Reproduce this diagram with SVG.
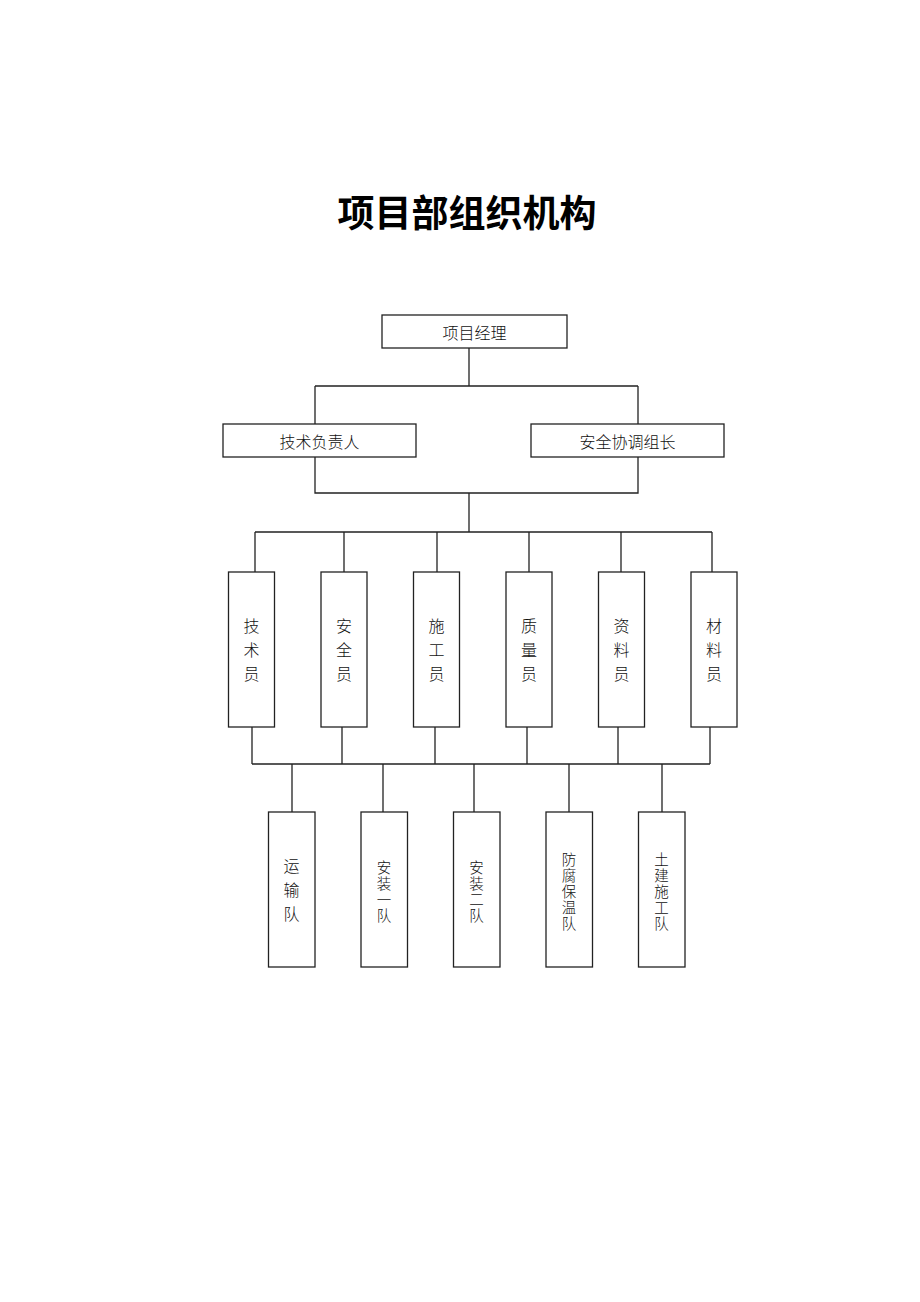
<svg xmlns="http://www.w3.org/2000/svg" width="920" height="1302" viewBox="0 0 920 1302">
<style>
.box{fill:#fff;stroke:#222;stroke-width:1.3}
.ln{fill:none;stroke:#222;stroke-width:1.3}
.t{font-family:"Noto Sans CJK SC","Noto Sans CJK JP",sans-serif;font-size:16px;fill:#111;text-anchor:middle;dominant-baseline:central;font-weight:300}
.s{font-size:14.5px}
.title{font-family:"Noto Sans CJK SC","Noto Sans CJK JP",sans-serif;font-size:37px;font-weight:bold;fill:#000;text-anchor:middle}
</style>
<rect width="920" height="1302" fill="#fff"/>
<text class="title" x="467" y="227">项目部组织机构</text>
<g id="connectors">
<path class="ln" d="M469,348V386M315,386H638M315,386V424M638,386V424"/>
<path class="ln" d="M315,457V493H638V457M469,493V532"/>
<path class="ln" d="M255,532H712M255,532V572M344,532V572M437,532V572M529,532V572M621,532V572M712,532V572"/>
<path class="ln" d="M252,727V764M342,727V764M435,727V764M527,727V764M618,727V764M710,727V764M252,764H710"/>
<path class="ln" d="M292,764V812M383,764V812M474,764V812M569,764V812M662,764V812"/>
</g>
<g id="n-manager"><rect class="box" x="382" y="315" width="185" height="33"/><text class="t" x="474.5" y="332">项目经理</text></g>
<g id="n-tech-lead"><rect class="box" x="223" y="424" width="193" height="33"/><text class="t" x="319.5" y="441">技术负责人</text></g>
<g id="n-safety-lead"><rect class="box" x="531" y="424" width="193" height="33"/><text class="t" x="627.5" y="441">安全协调组长</text></g>
<g id="n-jsy"><rect class="box" x="228.5" y="572" width="46" height="155"/><text class="t" x="251.5" y="625">技</text><text class="t" x="251.5" y="649">术</text><text class="t" x="251.5" y="673">员</text></g>
<g id="n-aqy"><rect class="box" x="321" y="572" width="46" height="155"/><text class="t" x="344" y="625">安</text><text class="t" x="344" y="649">全</text><text class="t" x="344" y="673">员</text></g>
<g id="n-sgy"><rect class="box" x="413.5" y="572" width="46" height="155"/><text class="t" x="436.5" y="625">施</text><text class="t" x="436.5" y="649">工</text><text class="t" x="436.5" y="673">员</text></g>
<g id="n-zly"><rect class="box" x="506" y="572" width="46" height="155"/><text class="t" x="529" y="625">质</text><text class="t" x="529" y="649">量</text><text class="t" x="529" y="673">员</text></g>
<g id="n-zlyuan"><rect class="box" x="598.5" y="572" width="46" height="155"/><text class="t" x="621.5" y="625">资</text><text class="t" x="621.5" y="649">料</text><text class="t" x="621.5" y="673">员</text></g>
<g id="n-cly"><rect class="box" x="691" y="572" width="46" height="155"/><text class="t" x="714" y="625">材</text><text class="t" x="714" y="649">料</text><text class="t" x="714" y="673">员</text></g>
<g id="n-ysd"><rect class="box" x="268.5" y="812" width="46.5" height="155"/><text class="t" x="291.5" y="865">运</text><text class="t" x="291.5" y="889">输</text><text class="t" x="291.5" y="913">队</text></g>
<g id="n-az1"><rect class="box" x="361" y="812" width="46.5" height="155"/><text class="t s" x="384" y="866">安</text><text class="t s" x="384" y="882">装</text><text class="t s" x="384" y="898">一</text><text class="t s" x="384" y="914">队</text></g>
<g id="n-az2"><rect class="box" x="453.5" y="812" width="46.5" height="155"/><text class="t s" x="476.5" y="866">安</text><text class="t s" x="476.5" y="882">装</text><text class="t s" x="476.5" y="898">二</text><text class="t s" x="476.5" y="914">队</text></g>
<g id="n-ffbw"><rect class="box" x="546" y="812" width="46.5" height="155"/><text class="t s" x="569" y="858">防</text><text class="t s" x="569" y="874">腐</text><text class="t s" x="569" y="890">保</text><text class="t s" x="569" y="906">温</text><text class="t s" x="569" y="922">队</text></g>
<g id="n-tjsg"><rect class="box" x="638.5" y="812" width="46.5" height="155"/><text class="t s" x="661.5" y="858">土</text><text class="t s" x="661.5" y="874">建</text><text class="t s" x="661.5" y="890">施</text><text class="t s" x="661.5" y="906">工</text><text class="t s" x="661.5" y="922">队</text></g>
</svg>
